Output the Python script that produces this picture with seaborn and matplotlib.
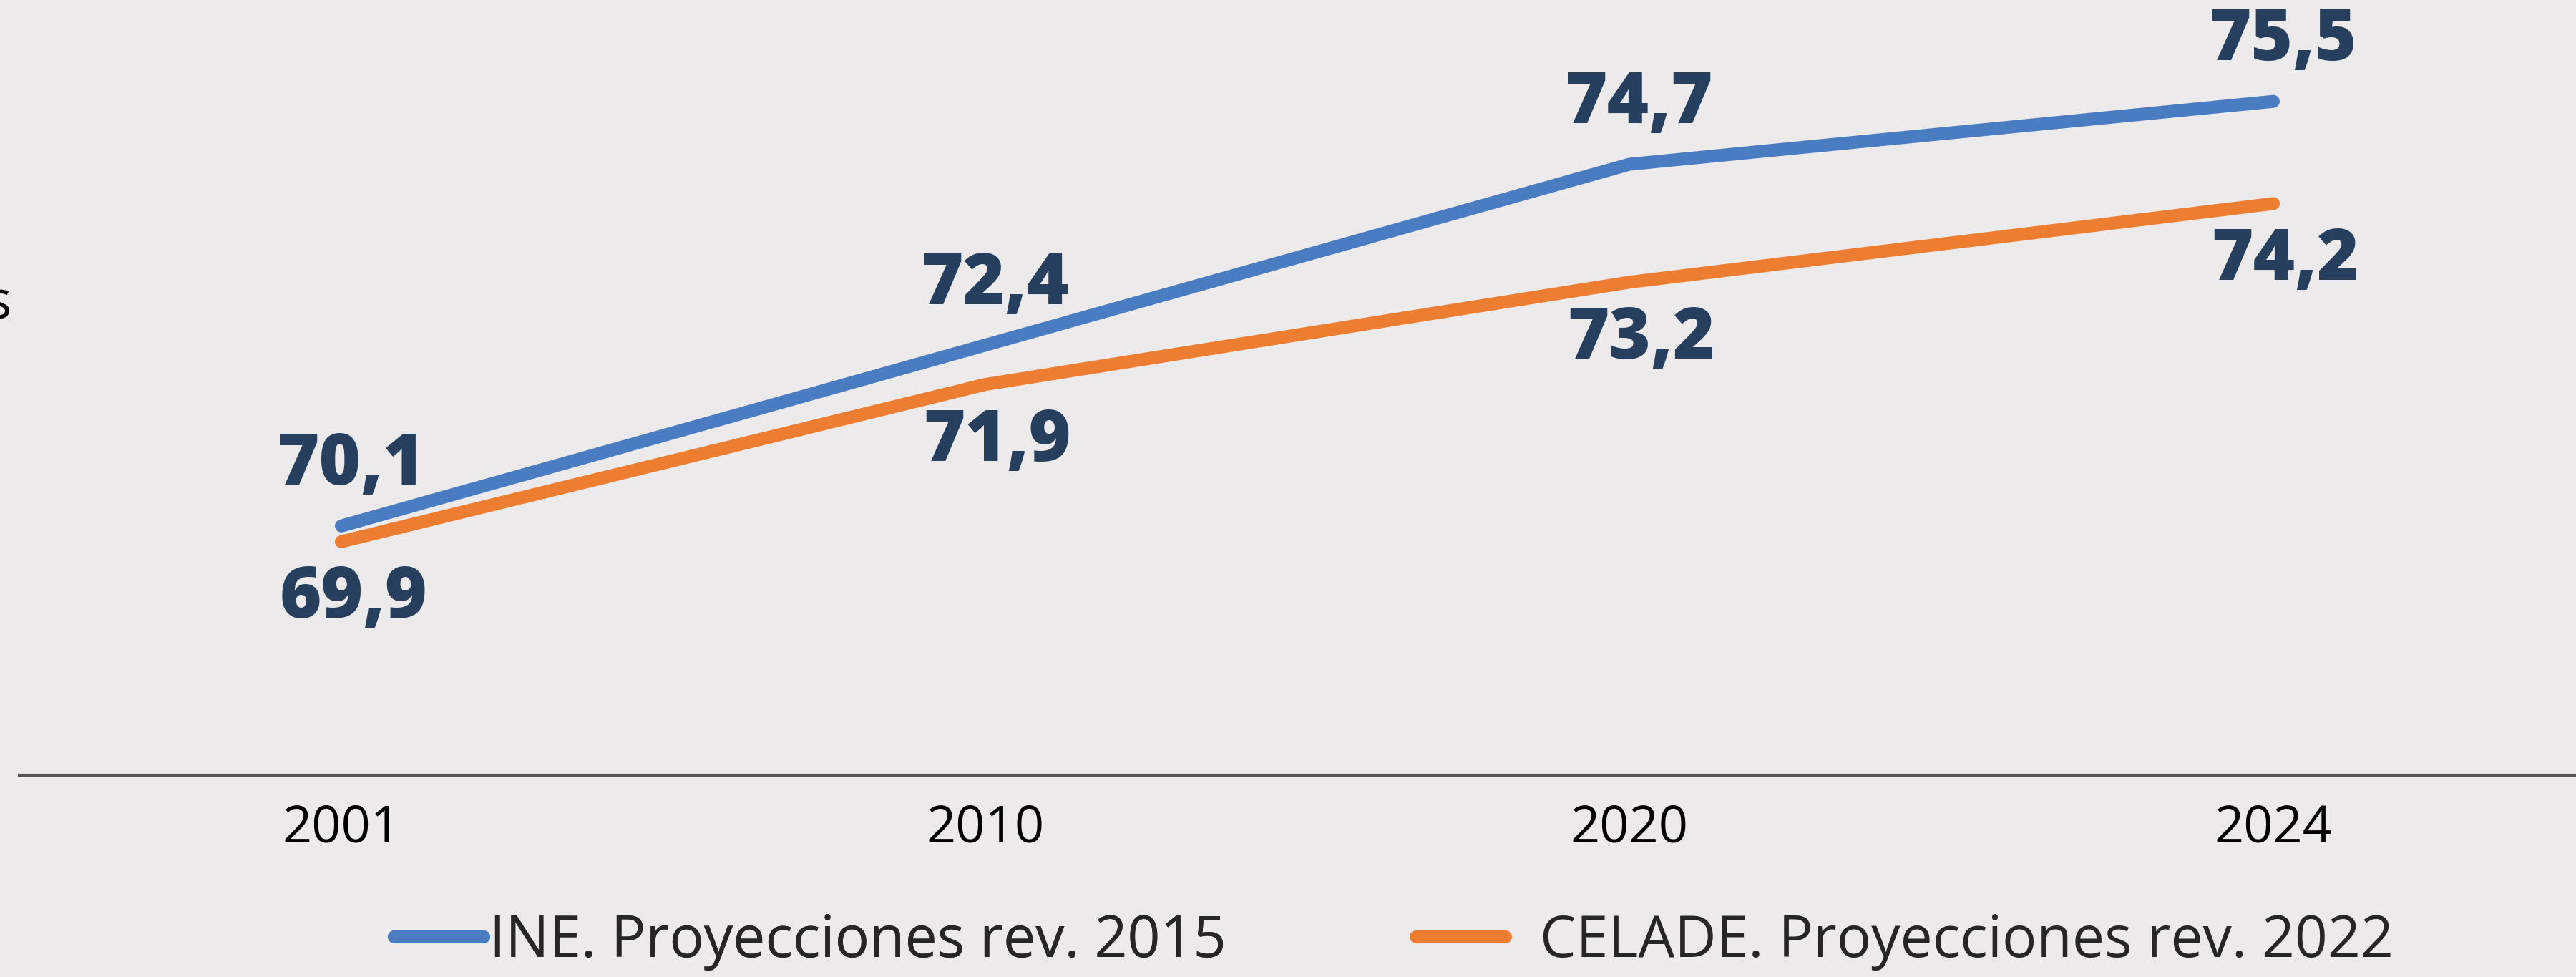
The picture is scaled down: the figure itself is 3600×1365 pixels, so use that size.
import pandas as pd
import matplotlib.pyplot as plt
import seaborn as sns

years = ['2001', '2010', '2020', '2024']
ine = [70.1, 72.4, 74.7, 75.5]
celade = [69.9, 71.9, 73.2, 74.2]
series = ['INE. Proyecciones rev. 2015', 'CELADE. Proyecciones rev. 2022']
colors = ['#4A7CC2', '#ED7D31']

df = pd.DataFrame({
    'pos': list(range(len(years))) * 2,
    'valor': ine + celade,
    'serie': [series[0]] * len(years) + [series[1]] * len(years),
})

bg = '#ECEAEB'
label_color = '#263F5E'

sns.set_theme(style='white')
plt.rcParams['font.family'] = ['Open Sans', 'DejaVu Sans']

fig = plt.figure(figsize=(36, 13.65), dpi=100, facecolor=bg)
ax = fig.add_axes([27 / 3600, 1 - 1083 / 1365, 1.0, 1083 / 1365])
ax.set_facecolor(bg)

sns.lineplot(data=df, x='pos', y='valor', hue='serie', palette=colors,
             linewidth=13, legend=False, ax=ax)
for ln in ax.get_lines():
    ln.set_solid_capstyle('round')

ax.set_xlim(-0.5, 3.5)
ax.set_ylim(66.93, 76.79)

# etiquetas de datos
for i, v in enumerate(ine):
    ax.annotate(f'{v:.1f}'.replace('.', ','), (i, v), xytext=(10, 60),
                textcoords='offset points', ha='center', va='center',
                fontsize=72, fontweight='heavy', color=label_color)
for i, v in enumerate(celade):
    ax.annotate(f'{v:.1f}'.replace('.', ','), (i, v), xytext=(12, -58),
                textcoords='offset points', ha='center', va='center',
                fontsize=72, fontweight='heavy', color=label_color)

for s in ['top', 'left', 'right']:
    ax.spines[s].set_visible(False)
ax.spines['bottom'].set_color('#555555')
ax.spines['bottom'].set_linewidth(3)

ax.set_xticks(range(len(years)))
ax.set_xticklabels(years, fontsize=52, color='black')
ax.set_xticks([-0.5, 0.5, 1.5, 2.5, 3.5], minor=True)
ax.tick_params(axis='x', which='major', length=0, pad=28)
ax.tick_params(axis='x', which='minor', length=18, width=1.5, color='#777777')
ax.set_yticks([])
ax.set_xlabel('')
ax.set_ylabel('')

fig.text(16 / 3600, 1 - 425 / 1365, 'Años', ha='right', va='center',
         fontsize=54, color='black')

lines = ax.get_lines()
leg1 = fig.legend([lines[0]], [series[0]], loc='center left',
                  bbox_to_anchor=(551 / 3600, 1 - 1316 / 1365), frameon=False,
                  fontsize=58, handlelength=1.55, handletextpad=0.1,
                  borderpad=0, borderaxespad=0)
fig.legend([lines[1]], [series[1]], loc='center left',
           bbox_to_anchor=(1979 / 3600, 1 - 1316 / 1365), frameon=False,
           fontsize=58, handlelength=1.55, handletextpad=0.6,
           borderpad=0, borderaxespad=0)
fig.add_artist(leg1)

fig.savefig('out.png', dpi=100, facecolor=bg)
